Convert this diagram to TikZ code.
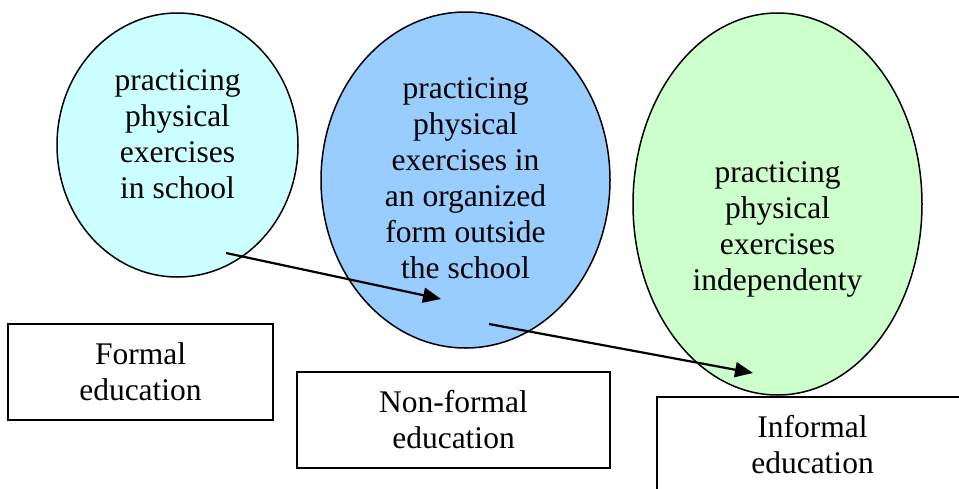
\documentclass[tikz,border=0pt]{standalone}
\usepackage{fontspec}
\setmainfont{Liberation Serif}
\newfontfamily\timesfont{Liberation Serif}
\usepackage{tikz}
\usetikzlibrary{shapes,arrows.meta}

\definecolor{schoolfill}{HTML}{CCFFFF}
\definecolor{organizedfill}{HTML}{99CCFF}
\definecolor{independentfill}{HTML}{CCFFCC}

\begin{document}
\begin{tikzpicture}[
    x=0.5pt, y=-0.5pt,
    every node/.style={font=\timesfont\fontsize{15.75}{18}\selectfont, align=center, inner sep=0pt},
    bubble/.style={draw, ellipse, line width=0.75pt},
    edubox/.style={draw, rectangle, line width=0.9pt, minimum height=48pt},
    link/.style={-{Triangle[length=9pt,width=7.5pt]}, line width=1.1pt}
]
\useasboundingbox (0,0) rectangle (959,488);

% the three ways of practicing
\node[bubble, fill=schoolfill, minimum width=120.5pt, minimum height=132pt] (school) at (177.5,145) {};
\node[yshift=5.5pt] (schoolText) at (school) {practicing\\physical\\exercises\\in school};
\node[bubble, fill=organizedfill, minimum width=144.5pt, minimum height=168pt] (organized) at (465.5,180) {};
\node[yshift=1pt] (organizedText) at (organized) {practicing\\physical\\exercises in\\an organized\\form outside\\the school};
\node[bubble, fill=independentfill, minimum width=144.5pt, minimum height=191pt] (independent) at (777.5,204) {};
\node[yshift=-12.5pt] (independentText) at (independent) {practicing\\physical\\exercises\\independenty};

% kinds of education
\node[edubox, minimum width=132.5pt] (formal) at (140.5,372) {Formal\\education};
\node[edubox, minimum width=156.5pt] (nonformal) at (453.5,420) {Non-formal\\education};
\node[edubox, minimum width=155.5pt] (informal) at (812.5,445) {Informal\\education};

% arrows between the circles
\coordinate (schoolOut) at (226,253);
\coordinate (organizedIn) at (441,299);
\coordinate (organizedOut) at (489,324);
\coordinate (independentIn) at (753,373);
\draw[link] (schoolOut) -- (organizedIn);
\draw[link] (organizedOut) -- (independentIn);
\end{tikzpicture}
\end{document}
